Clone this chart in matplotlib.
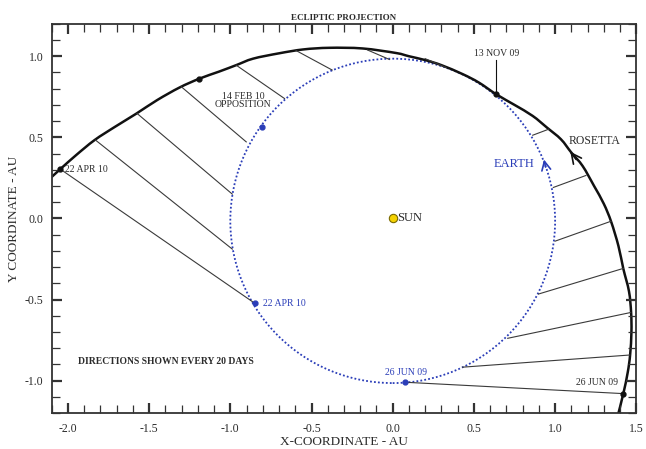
"""
Rosetta / Earth ecliptic projection, Jun 2009 - Apr 2010
"""

import matplotlib.pyplot as plt
import matplotlib.ticker as mticker
from matplotlib.patches import Circle, PathPatch
from matplotlib.path import Path

plt.rcParams['font.family'] = ['Liberation Serif', 'DejaVu Serif']

# Rosetta path (AU) in direction of travel
rosetta_x = [1.385, 1.42, 1.447, 1.462, 1.47, 1.468, 1.455, 1.42, 1.39, 1.345,
             1.30, 1.24, 1.169, 1.10, 1.036, 0.95, 0.862, 0.75, 0.638, 0.53,
             0.43, 0.30, 0.205, 0.10, 0.02, -0.186, -0.39, -0.55, -0.70, -0.86,
             -0.964, -1.07, -1.19, -1.313, -1.45, -1.579, -1.71, -1.836, -1.95,
             -2.047, -2.15]
rosetta_y = [-1.22, -1.08, -0.95, -0.84, -0.70, -0.58, -0.45, -0.31, -0.17, -0.02,
             0.09, 0.20, 0.324, 0.406, 0.488, 0.56, 0.632, 0.70, 0.765, 0.838,
             0.89, 0.945, 0.975, 1.0, 1.02, 1.048, 1.052, 1.042, 1.018, 0.985,
             0.945, 0.905, 0.862, 0.807, 0.73, 0.646, 0.565, 0.483, 0.39,
             0.304, 0.21]

# earth orbit (slightly off-centre: perihelion in January)
earth_orbit_center = (0.0, -0.015)
earth_orbit_radius = 1.0

# Earth -> Rosetta direction every 20 days, 26 Jun 09 .. 22 Apr 10
dir_earth_x = [0.078, 0.43, 0.708, 0.898, 1.0, 0.989, 0.862, 0.638, 0.33, -0.02,
               -0.373, -0.666, -0.902, -0.988, -0.988, -0.851]
dir_earth_y = [-1.01, -0.917, -0.739, -0.466, -0.14, 0.191, 0.513, 0.765, 0.93, 0.98,
               0.915, 0.739, 0.472, 0.15, -0.189, -0.522]
dir_ros_x = [1.42, 1.46, 1.465, 1.42, 1.345, 1.19, 0.96, 0.638, 0.2, -0.154,
             -0.595, -0.964, -1.302, -1.575, -1.83, -2.047]
dir_ros_y = [-1.08, -0.842, -0.58, -0.308, -0.017, 0.265, 0.55, 0.765, 0.985, 1.038,
             1.035, 0.945, 0.812, 0.648, 0.483, 0.304]

# marked dates
ros_mark_x = [1.42, 0.638, -1.19, -2.047]
ros_mark_y = [-1.08, 0.765, 0.862, 0.304]
earth_mark_x = [0.078, -0.806, -0.851]
earth_mark_y = [-1.01, 0.566, -0.522]

BLUE = '#2a3db8'
INK = '#2b2b2b'


def smooth_path(xs, ys):
    # cubic bezier through the points (catmull-rom tangents)
    pts = list(zip(xs, ys))
    ext = [pts[0]] + pts + [pts[-1]]
    verts = [pts[0]]
    codes = [Path.MOVETO]
    for i in range(1, len(ext) - 2):
        p0, p1, p2, p3 = ext[i - 1], ext[i], ext[i + 1], ext[i + 2]
        c1 = (p1[0] + (p2[0] - p0[0]) / 6, p1[1] + (p2[1] - p0[1]) / 6)
        c2 = (p2[0] - (p3[0] - p1[0]) / 6, p2[1] - (p3[1] - p1[1]) / 6)
        verts += [c1, c2, p2]
        codes += [Path.CURVE4] * 3
    return Path(verts, codes)


fig = plt.figure(figsize=(6.46, 4.49), dpi=100)
ax = fig.add_axes([0.080, 0.080, 0.905, 0.867])
ax.set_xlim(-2.1, 1.5)
ax.set_ylim(-1.2, 1.2)

ax.add_patch(Circle(earth_orbit_center, earth_orbit_radius, fill=False, ec=BLUE,
                    lw=1.3, ls=(0, (1, 1.2))))

# direction lines
for ex, ey, rx, ry in zip(dir_earth_x, dir_earth_y, dir_ros_x, dir_ros_y):
    ax.plot([ex, rx], [ey, ry], color='#3a3a3a', lw=0.8)

# rosetta trajectory
ax.add_patch(PathPatch(smooth_path(rosetta_x, rosetta_y), fill=False,
                       ec='#111111', lw=1.8, capstyle='round'))

ax.plot(ros_mark_x, ros_mark_y, 'o', color='#111111', ms=3.5)
ax.plot(earth_mark_x, earth_mark_y, 'o', color=BLUE, ms=3.5)

# sun
ax.plot([0], [0], 'o', mfc='#f5d200', mec='#7a6a00', ms=6, mew=0.8)
ax.text(0.025, 0.0, 'SUN', fontsize=9, color=INK, va='center', ha='left')

# direction of motion
ax.annotate('', xy=(1.083, 0.425), xytext=(1.14, 0.35),
            arrowprops=dict(arrowstyle='->', color='#111111', lw=1.2,
                            mutation_scale=18))
ax.annotate('', xy=(0.928, 0.38), xytext=(0.945, 0.30),
            arrowprops=dict(arrowstyle='->', color=BLUE, lw=1.2,
                            mutation_scale=16))

ax.text(1.245, 0.48, 'ROSETTA', fontsize=8.5, color=INK, ha='center', va='center')
ax.text(0.75, 0.333, 'EARTH', fontsize=9, color=BLUE, ha='center', va='center')

# date labels
ax.text(-2.02, 0.304, '22 APR 10', fontsize=7, color=INK, va='center', ha='left')
ax.text(-0.92, 0.728, '14 FEB 10\nOPPOSITION', fontsize=7, color=INK,
        ha='center', va='center', linespacing=0.95)
ax.text(0.638, 1.018, '13 NOV 09', fontsize=7, color=INK, ha='center', va='center')
ax.plot([0.638, 0.638], [0.975, 0.775], color='#111111', lw=0.8)
ax.text(-0.80, -0.522, '22 APR 10', fontsize=7, color=BLUE, va='center', ha='left')
ax.text(0.084, -0.95, '26 JUN 09', fontsize=7, color=BLUE, ha='center', va='center')
ax.text(1.26, -1.014, '26 JUN 09', fontsize=7, color=INK, ha='center', va='center')
ax.text(-1.94, -0.88, 'DIRECTIONS SHOWN EVERY 20 DAYS', fontsize=6.9,
        color=INK, ha='left', va='center', fontweight='bold')

ax.set_title('ECLIPTIC PROJECTION', fontsize=6.5, color=INK,
             fontweight='bold', pad=3)
ax.set_xlabel('X-COORDINATE - AU', fontsize=9.5, color=INK, labelpad=1)
ax.set_ylabel('Y COORDINATE - AU', fontsize=9.5, color=INK, labelpad=3)

ax.xaxis.set_major_locator(mticker.MultipleLocator(0.5))
ax.xaxis.set_minor_locator(mticker.MultipleLocator(0.1))
ax.yaxis.set_major_locator(mticker.MultipleLocator(0.5))
ax.yaxis.set_minor_locator(mticker.MultipleLocator(0.1))
ax.xaxis.set_major_formatter(mticker.FormatStrFormatter('%.1f'))
ax.yaxis.set_major_formatter(mticker.FormatStrFormatter('%.1f'))
ax.tick_params(which='both', direction='in', top=True, right=True,
               color='#333333', labelsize=8.5, labelcolor=INK)
ax.tick_params(which='major', length=7, width=1.6)
ax.tick_params(which='minor', length=6, width=0.9)
ax.tick_params(axis='x', which='major', pad=7)
ax.tick_params(axis='y', which='major', pad=6)
for s in ax.spines.values():
    s.set_color('#333333')
    s.set_linewidth(1.3)

fig.savefig('out.png', dpi=100)
